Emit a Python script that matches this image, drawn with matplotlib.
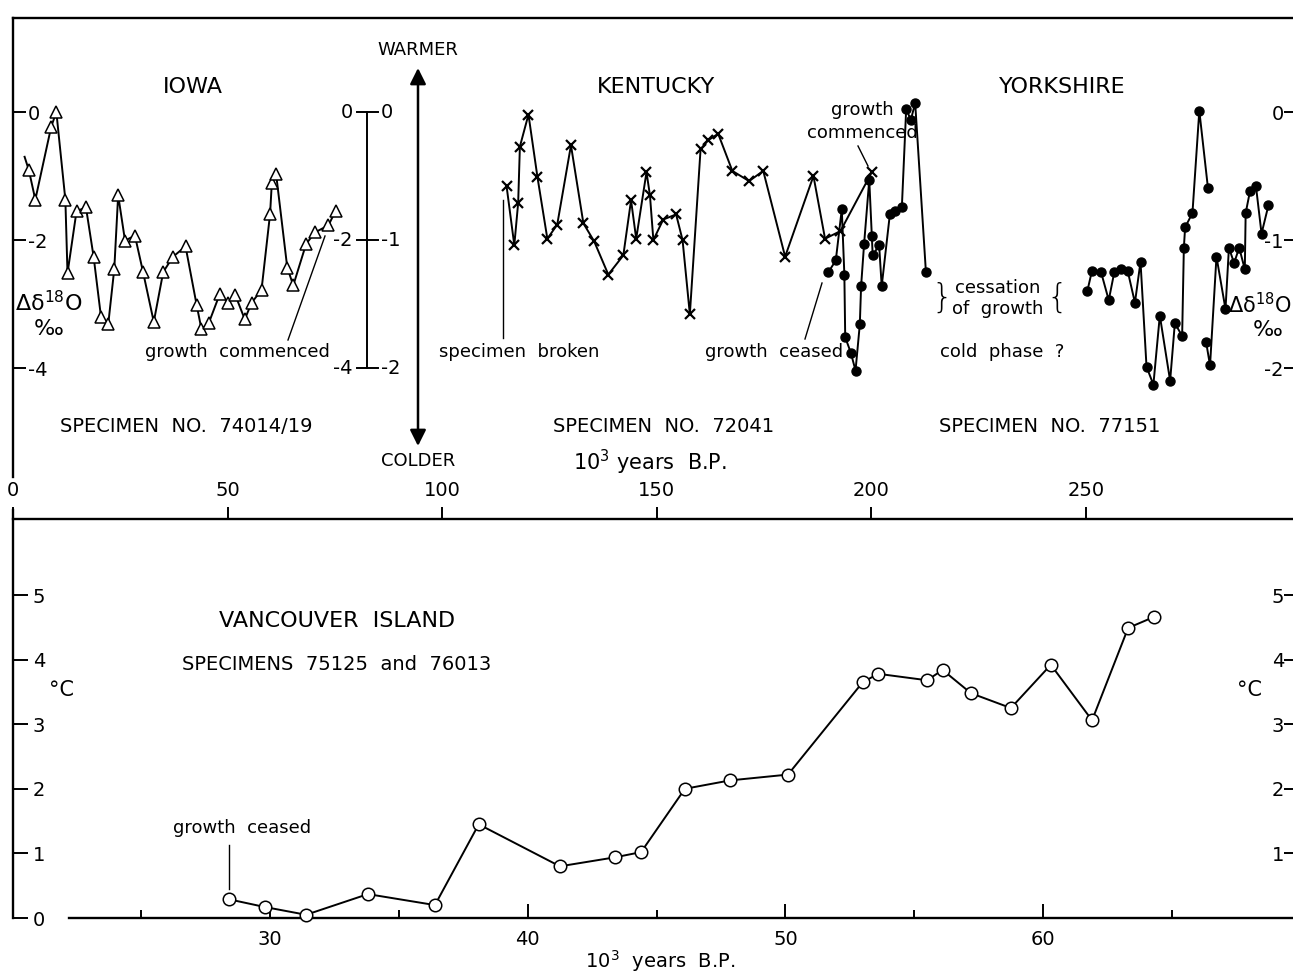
import matplotlib
matplotlib.use('Agg')
import matplotlib.pyplot as plt

plt.rcParams['font.family'] = ['DejaVu Sans']
plt.rcParams['mathtext.fontset'] = 'dejavusans'

# ---------------- data ----------------
# Iowa, specimen 74014/19 (left scale, per mil)
iowa_x = [2.7, 3.7, 5.2, 8.9, 10.1, 12.2, 12.7, 14.8, 17.0, 18.8, 20.5, 22.2, 23.6,
          24.5, 26.1, 28.4, 30.3, 32.8, 35.0, 37.3, 40.2, 42.8, 43.9, 45.6, 48.2,
          50.2, 51.8, 54.0, 55.6, 57.9, 59.9, 60.3, 61.3, 63.9, 65.3, 68.3, 70.4,
          73.5, 75.2]
iowa_y = [-0.70, -0.91, -1.37, -0.23, 0.00, -1.37, -2.52, -1.55, -1.49, -2.27, -3.20,
          -3.31, -2.45, -1.30, -2.01, -1.93, -2.50, -3.28, -2.50, -2.26, -2.10, -3.02,
          -3.39, -3.30, -2.84, -2.98, -2.86, -3.24, -2.98, -2.78, -1.59, -1.11, -0.97,
          -2.43, -2.71, -2.06, -1.88, -1.77, -1.54]

# Kentucky, specimen 72041 (right scale, per mil)
kent_x = [115.0, 116.8, 117.7, 118.1, 120.1, 122.2, 124.5, 126.8, 130.0, 132.9, 135.4,
          138.7, 142.2, 144.0, 145.2, 147.6, 148.4, 149.2, 151.5, 154.5, 156.0, 157.7,
          160.2, 162.0, 164.3, 167.6, 171.5, 174.8, 179.9, 186.5, 189.2, 192.8, 200.1]
kent_y = [-0.58, -1.04, -0.71, -0.27, -0.02, -0.51, -0.99, -0.88, -0.26, -0.87, -1.01,
          -1.27, -1.12, -0.69, -0.99, -0.47, -0.65, -1.00, -0.84, -0.80, -1.00, -1.58,
          -0.29, -0.22, -0.17, -0.46, -0.54, -0.46, -1.13, -0.50, -0.99, -0.93, -0.47]

# Yorkshire, specimen 77151 (right scale, per mil), three growth segments
york1_x = [190.0, 191.7, 193.1, 193.7, 193.9, 195.2, 196.3, 197.3, 197.6, 198.3, 199.5,
           200.1, 200.3, 201.8, 202.4, 204.3, 205.5, 207.1, 208.1, 209.2, 210.2, 212.7]
york1_y = [-1.25, -1.16, -0.76, -1.27, -1.76, -1.88, -2.02, -1.66, -1.36, -1.03, -0.53,
           -0.97, -1.12, -1.04, -1.36, -0.80, -0.77, -0.74, 0.02, -0.06, 0.07, -1.25]
york2_x = [250.3, 251.4, 253.5, 255.3, 256.6, 258.1, 259.7, 261.4, 262.7, 264.1, 265.7,
           267.2, 269.6, 270.7, 272.4, 272.8, 273.1, 274.8, 276.4, 278.4]
york2_y = [-1.40, -1.24, -1.25, -1.47, -1.25, -1.23, -1.24, -1.49, -1.17, -1.99, -2.13,
           -1.59, -2.10, -1.65, -1.75, -1.06, -0.90, -0.79, 0.01, -0.59]
york3_x = [278.0, 278.9, 280.4, 282.5, 283.3, 284.5, 285.7, 287.0, 287.2, 288.2, 289.6,
           290.9, 292.5]
york3_y = [-1.80, -1.98, -1.13, -1.54, -1.06, -1.18, -1.06, -1.23, -0.79, -0.62, -0.58,
           -0.95, -0.73]

# Vancouver Island, specimens 75125 and 76013 (deg C)
van_x = [28.4, 29.8, 31.4, 33.8, 36.4, 38.1, 41.25, 43.4, 44.4, 46.1, 47.85, 50.1,
         53.0, 53.6, 55.5, 56.1, 57.2, 58.75, 60.3, 61.9, 63.3, 64.3]
van_y = [0.29, 0.17, 0.05, 0.37, 0.20, 1.45, 0.80, 0.94, 1.02, 2.00, 2.13, 2.22,
         3.65, 3.78, 3.68, 3.84, 3.48, 3.25, 3.92, 3.06, 4.49, 4.66]

# ticks
top_xticks = [0, 50, 100, 150, 200, 250]
top_xticklabels = ['0', '50', '100', '150', '200', '250']
iowa_yticks = [0, -2, -4]
iowa_yticklabels = ['0', '-2', '-4']
york_yticks = [0, -1, -2]
york_yticklabels = ['0', '-1', '-2']
scale_left_vals = [0, -2, -4]
scale_left_labels = ['0', '-2', '-4']
scale_right_labels = ['0', '-1', '-2']
van_left_ticks = [0, 1, 2, 3, 4, 5]
van_left_labels = ['0', '1', '2', '3', '4', '5']
van_right_ticks = [1, 2, 3, 4, 5]
van_right_labels = ['1', '2', '3', '4', '5']
van_xmajor = [30, 40, 50, 60]
van_xmajor_labels = ['30', '40', '50', '60']
van_xminor = [25, 35, 45, 55, 65]

# ---------------- layout helpers (pixels) ----------------
W, H = 1293, 977
PT = 100 / 72.0
fig = plt.figure(figsize=(W / 100, H / 100), dpi=100)


def rect(l, t, r, b):
    return [l / W, 1 - b / H, (r - l) / W, (b - t) / H]


LW = 1.4
SPW = 1.7
TFS = 14   # tick label size

# ================= TOP PANEL =================
ax = fig.add_axes(rect(13, 18, 1298, 519))
PXX = 4.292           # px per 10^3 yr
PXY = 64.0            # px per per-mil (left scale)
ax.set_xlim(0, (1298 - 13) / PXX)
ax.set_ylim(-(519 - 112) / PXY, (112 - 18) / PXY)


def tx(px):
    return (px - 13) / PXX


def ty(py):
    return -(py - 112) / PXY


ax.spines['right'].set_visible(False)
for s in ['left', 'top', 'bottom']:
    ax.spines[s].set_linewidth(SPW)
ax.spines['left'].set_bounds(ty(477), ty(18))

ax.set_xticks(top_xticks)
ax.set_xticklabels(top_xticklabels)
ax.tick_params(axis='x', direction='in', length=9, width=1.4, pad=-19 / PT, labelsize=TFS)
for lab in ax.get_xticklabels():
    lab.set_verticalalignment('bottom')

ax.set_yticks(iowa_yticks)
ax.set_yticklabels(iowa_yticklabels)
ax.tick_params(axis='y', direction='in', length=9, width=1.4, pad=-15 / PT, labelsize=TFS)
for lab in ax.get_yticklabels():
    lab.set_horizontalalignment('left')

ax.plot(iowa_x, iowa_y, color='k', lw=LW, marker='^', ms=8, mfc='white', mec='k',
        mew=1.1, markevery=list(range(1, len(iowa_x))), zorder=3)

# second (right) per-mil scale
ak = ax.twinx()
ak.set_ylim(-(519 - 112) / (2 * PXY), (112 - 18) / (2 * PXY))
for s in ak.spines.values():
    s.set_visible(False)
ak.set_yticks(york_yticks)
ak.set_yticklabels(york_yticklabels)
ak.tick_params(axis='y', direction='in', length=10, width=1.4, pad=-14 / PT, labelsize=TFS)
for lab in ak.get_yticklabels():
    lab.set_horizontalalignment('right')

ak.plot(kent_x, kent_y, color='k', lw=LW, marker='x', ms=7, mew=1.6, zorder=3)
for xs, ys in [(york1_x, york1_y), (york2_x, york2_y), (york3_x, york3_y)]:
    ak.plot(xs, ys, color='k', lw=LW, marker='o', ms=6.5, mfc='k', mec='k', zorder=3)

# central double scale bar
sx = tx(367)
ax.plot([sx, sx], [scale_left_vals[0], scale_left_vals[-1]], color='k', lw=1.4)
for v, ll, rl in zip(scale_left_vals, scale_left_labels, scale_right_labels):
    ax.plot([tx(357), tx(378)], [v, v], color='k', lw=1.4)
    ax.text(tx(353), v, ll, ha='right', va='center', fontsize=TFS)
    ax.text(tx(381), v, rl, ha='left', va='center', fontsize=TFS)

# warmer / colder arrow
ax.annotate('', xy=(tx(418), ty(446)), xytext=(tx(418), ty(68)),
            arrowprops=dict(arrowstyle='<|-|>', lw=1.8, color='k', mutation_scale=24,
                            shrinkA=0, shrinkB=0))
ax.text(tx(418), ty(50), 'WARMER', ha='center', va='center', fontsize=13)
ax.text(tx(418), ty(461), 'COLDER', ha='center', va='center', fontsize=13)

# titles and labels
ax.text(tx(193), ty(87), 'IOWA', ha='center', va='center', fontsize=16)
ax.text(tx(656), ty(87), 'KENTUCKY', ha='center', va='center', fontsize=16)
ax.text(tx(1062), ty(87), 'YORKSHIRE', ha='center', va='center', fontsize=16)
ax.text(tx(186), ty(427), 'SPECIMEN  NO.  74014/19', ha='center', va='center', fontsize=14)
ax.text(tx(664), ty(427), 'SPECIMEN  NO.  72041', ha='center', va='center', fontsize=14)
ax.text(tx(1050), ty(427), 'SPECIMEN  NO.  77151', ha='center', va='center', fontsize=14)
ax.text(tx(650), ty(462), r'10$^3$ years  B.P.', ha='center', va='center', fontsize=15)

ax.text(tx(49), ty(303), r'Δδ$^{18}$O', ha='center', va='center', fontsize=16)
ax.text(tx(49), ty(329), '‰', ha='center', va='center', fontsize=16)
ax.text(tx(1292), ty(305), r'Δδ$^{18}$O', ha='right', va='center', fontsize=15)
ax.text(tx(1268), ty(330), '‰', ha='center', va='center', fontsize=16)

# annotations
ax.plot([tx(325), tx(288)], [ty(236), ty(340)], color='k', lw=1.0)
ax.text(tx(237), ty(352), 'growth  commenced', ha='center', va='center', fontsize=13)
ax.plot([tx(503), tx(503)], [ty(200), ty(338)], color='k', lw=1.0)
ax.text(tx(519), ty(352), 'specimen  broken', ha='center', va='center', fontsize=13)
ax.plot([tx(822), tx(805)], [ty(283), ty(339)], color='k', lw=1.0)
ax.text(tx(774), ty(352), 'growth  ceased', ha='center', va='center', fontsize=13)
ax.text(tx(862), ty(110), 'growth', ha='center', va='center', fontsize=13)
ax.text(tx(862), ty(133), 'commenced', ha='center', va='center', fontsize=13)
ax.plot([tx(858), tx(868)], [ty(146), ty(166)], color='k', lw=1.0)

ax.text(tx(942), ty(298), '}', ha='center', va='center', fontsize=24, fontweight='light')
ax.text(tx(1057), ty(298), '{', ha='center', va='center', fontsize=24, fontweight='light')
ax.text(tx(998), ty(288), 'cessation', ha='center', va='center', fontsize=13)
ax.text(tx(998), ty(309), 'of  growth', ha='center', va='center', fontsize=13)
ax.text(tx(1002), ty(352), 'cold  phase  ?', ha='center', va='center', fontsize=13)

# ================= BOTTOM PANEL =================
ab = fig.add_axes(rect(13, 510, 1298, 918))
BXX = 25.77
BXY = 64.6
ab.set_xlim(30 - (270 - 13) / BXX, 30 + (1298 - 270) / BXX)
ab.set_ylim(0, (918 - 510) / BXY)


def bx(px):
    return 30 + (px - 270) / BXX


def by(py):
    return (918 - py) / BXY


ab.patch.set_alpha(0)
ab.spines['top'].set_visible(False)
ab.spines['right'].set_visible(False)
ab.spines['left'].set_linewidth(SPW)
ab.spines['bottom'].set_linewidth(SPW)
ab.spines['bottom'].set_bounds(bx(69), bx(1298))

ab.set_xticks(van_xmajor)
ab.set_xticklabels(van_xmajor_labels)
ab.set_xticks(van_xminor, minor=True)
ab.tick_params(axis='x', which='major', direction='in', length=10, width=1.4, pad=12 / PT,
               labelsize=TFS)
ab.tick_params(axis='x', which='minor', direction='in', length=6, width=1.4)

ab.set_yticks(van_left_ticks)
ab.set_yticklabels(van_left_labels)
ab.tick_params(axis='y', direction='in', length=11, width=1.4, pad=-20 / PT, labelsize=TFS)
for lab in ab.get_yticklabels():
    lab.set_horizontalalignment('left')

ab.plot(van_x, van_y, color='k', lw=LW, marker='o', ms=9, mfc='white', mec='k', mew=1.1,
        zorder=3, clip_on=False)

ab2 = ab.twinx()
ab2.set_ylim(ab.get_ylim())
for s in ab2.spines.values():
    s.set_visible(False)
ab2.set_yticks(van_right_ticks)
ab2.set_yticklabels(van_right_labels)
ab2.tick_params(axis='y', direction='in', length=10, width=1.4, pad=-14 / PT, labelsize=TFS)
for lab in ab2.get_yticklabels():
    lab.set_horizontalalignment('right')

ab.text(bx(337), by(621), 'VANCOUVER  ISLAND', ha='center', va='center', fontsize=16)
ab.text(bx(337), by(664), 'SPECIMENS  75125  and  76013', ha='center', va='center',
        fontsize=14)
ab.text(bx(62), by(690), '°C', ha='center', va='center', fontsize=15)
ab.text(bx(1250), by(690), '°C', ha='center', va='center', fontsize=15)
ab.text(bx(242), by(828), 'growth  ceased', ha='center', va='center', fontsize=13)
ab.plot([bx(229), bx(229)], [by(845), by(889)], color='k', lw=1.0)
ab.text(bx(660), by(961), r'10$^3$  years  B.P.', ha='center', va='center', fontsize=14,
        clip_on=False)

fig.savefig('out.png', dpi=100)
